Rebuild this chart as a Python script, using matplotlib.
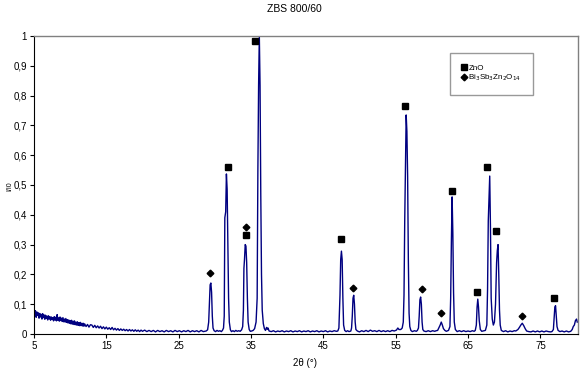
import numpy as np
import matplotlib
matplotlib.use("Agg")
import matplotlib.pyplot as plt
from matplotlib.ticker import FuncFormatter

plt.rcParams['font.family'] = ['Liberation Sans', 'DejaVu Sans']

#%% scan data (2theta in degrees, normalised intensity)
low_2theta = [5.0, 5.1, 5.2, 5.3, 5.4, 5.5, 5.6, 5.7, 5.8, 5.9,
              6.0, 6.1, 6.2, 6.3, 6.4, 6.5, 6.6, 6.7, 6.8, 6.9,
              7.0, 7.1, 7.2, 7.3, 7.4, 7.5, 7.6, 7.7, 7.8, 7.9,
              8.0, 8.1, 8.2, 8.3, 8.4, 8.5, 8.6, 8.7, 8.8, 8.9,
              9.0, 9.1, 9.2, 9.3, 9.4, 9.5, 9.6, 9.7, 9.8, 9.9,
              10.0, 10.1, 10.2, 10.3, 10.4, 10.5, 10.6, 10.7, 10.8, 10.9,
              11.0, 11.1, 11.2, 11.3, 11.4, 11.5, 11.6, 11.7, 11.8, 11.9,
              12.0, 12.2, 12.4, 12.6, 12.8,
              13.0, 13.2, 13.4, 13.6, 13.8, 14.0, 14.2, 14.4, 14.6, 14.8,
              15.0, 15.2, 15.4, 15.6, 15.8, 16.0, 16.2, 16.4, 16.6, 16.8,
              17.0, 17.2, 17.4, 17.6, 17.8, 18.0, 18.2, 18.4, 18.6, 18.8,
              19.0, 19.2, 19.4, 19.6, 19.8, 20.0, 20.3, 20.6, 20.9, 21.2,
              21.5, 21.8, 22.1, 22.4, 22.7, 23.0, 23.3, 23.6, 23.9, 24.2,
              24.5, 24.8, 25.1, 25.4, 25.7, 26.0, 26.3, 26.6, 26.9, 27.2,
              27.5, 27.8, 28.1, 28.4]
low_counts = [0.084, 0.060, 0.078, 0.056, 0.074, 0.062, 0.071, 0.053, 0.069, 0.057,
              0.066, 0.050, 0.068, 0.055, 0.064, 0.049, 0.063, 0.052, 0.060, 0.047,
              0.061, 0.050, 0.058, 0.046, 0.057, 0.049, 0.055, 0.044, 0.058, 0.047,
              0.056, 0.044, 0.065, 0.046, 0.054, 0.043, 0.057, 0.045, 0.053, 0.042,
              0.055, 0.041, 0.050, 0.040, 0.052, 0.039, 0.048, 0.037, 0.047, 0.036,
              0.045, 0.034, 0.046, 0.033, 0.043, 0.032, 0.044, 0.031, 0.040, 0.030,
              0.041, 0.029, 0.038, 0.028, 0.039, 0.028, 0.036, 0.027, 0.036, 0.026,
              0.034, 0.025, 0.032, 0.023, 0.031,
              0.030, 0.022, 0.029, 0.021, 0.027, 0.020, 0.026, 0.018, 0.024, 0.017,
              0.023, 0.016, 0.021, 0.015, 0.022, 0.014, 0.019, 0.013, 0.018, 0.012,
              0.017, 0.012, 0.016, 0.011, 0.015, 0.010, 0.015, 0.010, 0.014, 0.009,
              0.014, 0.009, 0.013, 0.008, 0.013, 0.009, 0.013, 0.008, 0.012, 0.008,
              0.012, 0.007, 0.012, 0.008, 0.011, 0.007, 0.012, 0.008, 0.011, 0.007,
              0.012, 0.008, 0.011, 0.007, 0.011, 0.008, 0.012, 0.007, 0.011, 0.008,
              0.011, 0.007, 0.012, 0.008]

high_2theta = [28.8, 29.0, 29.15, 29.25, 29.35, 29.45, 29.55, 29.65, 29.75, 29.9,
               30.1, 30.3, 30.5, 30.7, 30.9, 31.05, 31.2, 31.3, 31.38, 31.5,
               31.6, 31.7, 31.8, 31.9, 32.0, 32.15, 32.3, 32.5, 32.7, 32.9,
               33.1, 33.3, 33.5, 33.7, 33.85, 33.95, 34.02, 34.1, 34.2, 34.3,
               34.4, 34.5, 34.6, 34.75, 34.9, 35.1, 35.3, 35.5, 35.7, 35.85,
               35.95, 36.05, 36.15, 36.25, 36.35, 36.45, 36.55, 36.7, 36.85, 37.0,
               37.15, 37.25, 37.35, 37.5, 37.8, 38.1, 38.4, 38.7, 39.0, 39.3,
               39.6, 39.9, 40.2, 40.5, 40.8, 41.1, 41.4, 41.7, 42.0, 42.3,
               42.6, 42.9, 43.2, 43.5, 43.8, 44.1, 44.4, 44.7, 45.0, 45.3,
               45.6, 45.9, 46.2, 46.5, 46.8, 47.0, 47.15, 47.3, 47.4, 47.5,
               47.6, 47.7, 47.8, 47.95, 48.15, 48.35, 48.55, 48.8, 48.9, 49.0,
               49.1, 49.2, 49.3, 49.4, 49.5, 49.7, 50.0, 50.3, 50.6, 50.9,
               51.2, 51.5, 51.8, 52.1, 52.4, 52.7, 53.0, 53.3, 53.6, 53.9,
               54.2, 54.5, 54.8, 55.1, 55.3, 55.45, 55.7, 55.9, 56.05, 56.15,
               56.25, 56.35, 56.45, 56.55, 56.65, 56.75, 56.85, 56.95, 57.1, 57.3,
               57.6, 57.85, 58.0, 58.15, 58.25, 58.35, 58.45, 58.55, 58.65, 58.75,
               58.9, 59.2, 59.5, 59.8, 60.1, 60.4, 60.6, 60.8, 61.0, 61.15,
               61.3, 61.45, 61.6, 61.8, 62.0, 62.3, 62.5, 62.6, 62.7, 62.8,
               62.9, 63.0, 63.1, 63.25, 63.5, 63.8, 64.1, 64.4, 64.7, 65.0,
               65.3, 65.6, 65.85, 66.0, 66.15, 66.25, 66.35, 66.45, 66.55, 66.7,
               66.9, 67.2, 67.4, 67.6, 67.7, 67.8, 67.9, 68.0, 68.1, 68.2,
               68.35, 68.5, 68.65, 68.8, 68.95, 69.05, 69.15, 69.25, 69.35, 69.45,
               69.6, 69.9, 70.2, 70.5, 70.8, 71.1, 71.4, 71.6, 71.9, 72.1,
               72.3, 72.5, 72.7, 72.9, 73.1, 73.4, 73.7, 74.0, 74.3, 74.6,
               74.9, 75.2, 75.5, 75.8, 76.1, 76.4, 76.6, 76.8, 76.9, 77.0,
               77.1, 77.2, 77.3, 77.45, 77.7, 78.0, 78.3, 78.6, 78.9, 79.2,
               79.4, 79.55, 79.7, 79.85, 80.0, 80.1]
high_counts = [0.010, 0.014, 0.040, 0.100, 0.165, 0.171, 0.140, 0.060, 0.020, 0.011,
               0.008, 0.012, 0.009, 0.011, 0.008, 0.012, 0.020, 0.060, 0.390, 0.410,
               0.537, 0.486, 0.300, 0.120, 0.040, 0.014, 0.008, 0.011, 0.008, 0.012,
               0.009, 0.011, 0.009, 0.014, 0.025, 0.080, 0.220, 0.250, 0.300, 0.295,
               0.240, 0.120, 0.040, 0.015, 0.009, 0.010, 0.012, 0.018, 0.040, 0.120,
               0.550, 0.835, 1.000, 0.835, 0.470, 0.200, 0.080, 0.035, 0.018, 0.012,
               0.022, 0.016, 0.020, 0.010, 0.008, 0.011, 0.007, 0.010, 0.008, 0.011,
               0.007, 0.010, 0.008, 0.011, 0.007, 0.010, 0.008, 0.011, 0.007, 0.010,
               0.008, 0.011, 0.007, 0.010, 0.008, 0.011, 0.007, 0.010, 0.008, 0.011,
               0.007, 0.010, 0.008, 0.011, 0.009, 0.010, 0.020, 0.130, 0.250, 0.278,
               0.250, 0.120, 0.030, 0.012, 0.008, 0.011, 0.008, 0.010, 0.020, 0.060,
               0.120, 0.130, 0.100, 0.040, 0.015, 0.010, 0.007, 0.011, 0.008, 0.012,
               0.008, 0.013, 0.009, 0.011, 0.008, 0.012, 0.008, 0.011, 0.008, 0.011,
               0.008, 0.012, 0.010, 0.013, 0.020, 0.015, 0.015, 0.020, 0.040, 0.130,
               0.380, 0.550, 0.735, 0.680, 0.530, 0.250, 0.070, 0.025, 0.012, 0.008,
               0.011, 0.009, 0.012, 0.020, 0.060, 0.115, 0.124, 0.100, 0.040, 0.015,
               0.010, 0.008, 0.011, 0.008, 0.011, 0.009, 0.011, 0.012, 0.022, 0.030,
               0.040, 0.030, 0.018, 0.012, 0.009, 0.012, 0.025, 0.120, 0.310, 0.460,
               0.340, 0.140, 0.040, 0.015, 0.008, 0.011, 0.008, 0.011, 0.008, 0.010,
               0.008, 0.011, 0.009, 0.012, 0.030, 0.090, 0.117, 0.090, 0.045, 0.015,
               0.009, 0.011, 0.012, 0.030, 0.150, 0.380, 0.450, 0.530, 0.360, 0.120,
               0.050, 0.030, 0.040, 0.100, 0.240, 0.280, 0.300, 0.200, 0.080, 0.030,
               0.012, 0.008, 0.011, 0.007, 0.010, 0.008, 0.011, 0.010, 0.015, 0.022,
               0.030, 0.036, 0.028, 0.018, 0.010, 0.008, 0.007, 0.010, 0.007, 0.010,
               0.007, 0.010, 0.007, 0.010, 0.008, 0.007, 0.008, 0.015, 0.050, 0.090,
               0.095, 0.060, 0.025, 0.012, 0.008, 0.010, 0.007, 0.010, 0.007, 0.009,
               0.015, 0.025, 0.030, 0.045, 0.050, 0.040]

# phase markers
zno_2theta = [31.83, 34.25, 35.57, 47.46, 56.30, 62.80, 66.27, 67.65, 68.90, 76.92]
zno_level = [0.560, 0.332, 0.983, 0.319, 0.765, 0.480, 0.141, 0.560, 0.346, 0.121]
pyro_2theta = [29.27, 34.25, 49.08, 58.57, 61.20, 72.40]
pyro_level = [0.203, 0.359, 0.153, 0.152, 0.0715, 0.061]

#%%
two_theta = np.array(low_2theta + high_2theta)
counts = np.array(low_counts + high_counts)

fig = plt.figure(figsize=(5.85, 3.73), dpi=100)
ax = fig.add_axes([0.0581, 0.1046, 0.9299, 0.7989])

ax.plot(two_theta, counts, color='#000080', lw=1.0)
ax.plot(zno_2theta, zno_level, ls='none', marker='s', ms=3.8, color='black', label='ZnO')
ax.plot(pyro_2theta, pyro_level, ls='none', marker='D', ms=3.4, color='black',
        label=r'Bi$_3$Sb$_3$Zn$_2$O$_{14}$')

ax.set_xlim(5, 80.2)
ax.set_ylim(0, 1)
ax.set_xticks([5, 15, 25, 35, 45, 55, 65, 75])
ax.set_yticks(np.arange(0, 1.01, 0.1))
ax.yaxis.set_major_formatter(FuncFormatter(lambda v, p: ('%g' % round(v, 1)).replace('.', ',')))
ax.tick_params(labelsize=7, length=3, width=0.8, direction='out', pad=2)

for s in ['top', 'right']:
    ax.spines[s].set_color('#808080')
    ax.spines[s].set_linewidth(1.0)
for s in ['left', 'bottom']:
    ax.spines[s].set_color('black')
    ax.spines[s].set_linewidth(0.8)

fig.text(0.503, 0.975, 'ZBS 800/60', ha='center', va='center', fontsize=7.5)
fig.text(0.522, 0.027, u'2\u03b8 (\u00b0)', ha='center', va='center', fontsize=7)
fig.text(0.017, 0.50, 'I/I0', ha='center', va='center', fontsize=5, rotation=90)

leg = ax.legend(loc='upper left', bbox_to_anchor=(0.765, 0.944), fontsize=5.8,
                frameon=True, fancybox=False, edgecolor='#808080', borderpad=1.4,
                handletextpad=0.15, handlelength=0.7, labelspacing=0.15,
                borderaxespad=0)
leg.get_frame().set_linewidth(1.0)

fig.savefig('out.png', dpi=100)
